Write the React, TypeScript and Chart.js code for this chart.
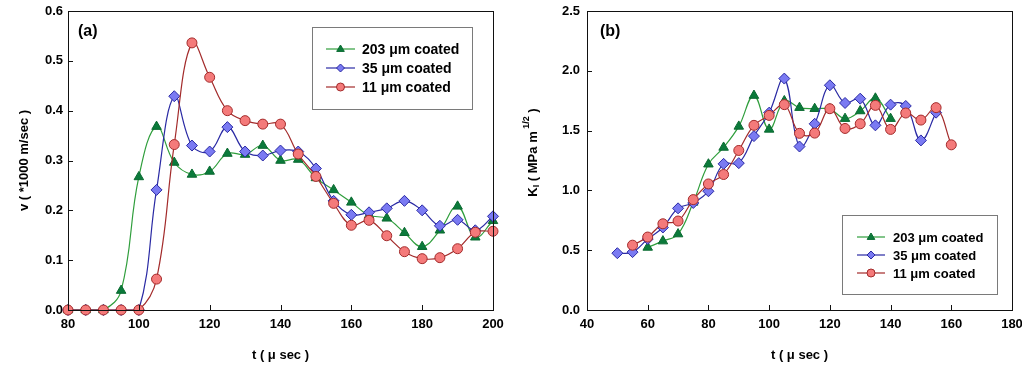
import React, { useEffect, useRef } from 'react';
import { Chart, registerables } from 'chart.js';

Chart.register(...registerables);

const FONT = '"Liberation Sans", Arial, Helvetica, sans-serif';

// ---------- Panel (a): crack velocity ----------
const timeA = [80, 85, 90, 95, 100, 105, 110, 115, 120, 125, 130, 135, 140, 145, 150, 155, 160, 165, 170, 175, 180, 185, 190, 195, 200];
const velocity203 = [0, 0, 0, 0.039, 0.267, 0.368, 0.296, 0.272, 0.278, 0.314, 0.312, 0.33, 0.3, 0.302, 0.265, 0.241, 0.216, 0.19, 0.184, 0.155, 0.127, 0.16, 0.208, 0.146, 0.179];
const velocity35 = [0, 0, 0, 0, 0, 0.241, 0.429, 0.33, 0.318, 0.367, 0.318, 0.31, 0.32, 0.318, 0.284, 0.219, 0.191, 0.196, 0.204, 0.219, 0.2, 0.169, 0.181, 0.16, 0.188];
const velocity11 = [0, 0, 0, 0, 0, 0.062, 0.332, 0.536, 0.467, 0.4, 0.38, 0.373, 0.373, 0.313, 0.268, 0.214, 0.17, 0.18, 0.149, 0.117, 0.103, 0.105, 0.123, 0.156, 0.158];

// ---------- Panel (b): stress intensity factor ----------
const timeB203 = [60, 65, 70, 75, 80, 85, 90, 95, 100, 105, 110, 115, 120, 125, 130, 135, 140];
const stress203 = [0.523, 0.576, 0.635, 0.9, 1.219, 1.359, 1.535, 1.793, 1.51, 1.748, 1.692, 1.683, 1.68, 1.6, 1.664, 1.77, 1.6];
const timeB35 = [50, 55, 60, 65, 70, 75, 80, 85, 90, 95, 100, 105, 110, 115, 120, 125, 130, 135, 140, 145, 150, 155];
const stress35 = [0.475, 0.484, 0.593, 0.69, 0.85, 0.895, 0.993, 1.222, 1.228, 1.454, 1.65, 1.935, 1.367, 1.557, 1.879, 1.731, 1.767, 1.544, 1.717, 1.706, 1.418, 1.65];
const timeB11 = [55, 60, 65, 70, 75, 80, 85, 90, 95, 100, 105, 110, 115, 120, 125, 130, 135, 140, 145, 150, 155, 160];
const stress11 = [0.542, 0.61, 0.721, 0.744, 0.923, 1.054, 1.133, 1.334, 1.544, 1.627, 1.717, 1.477, 1.479, 1.683, 1.518, 1.557, 1.711, 1.51, 1.647, 1.588, 1.692, 1.381];

const seriesLabels = ['203 \u03bcm coated', '35 \u03bcm coated', '11 \u03bcm coated'];
const xTitle = 't ( \u03bc sec )';
const yTitleA = 'v ( *1000 m/sec )';

const STYLES = [
  { line: '#2f9e3c', fill: '#0b7a3b', point: 'triangle', radius: 5.5, order: 3 },
  { line: '#2a2aa4', fill: '#7a7af2', point: 'rectRot', radius: 5.5, order: 2 },
  { line: '#a32b2b', fill: '#f47a7a', point: 'circle', radius: 5, order: 1 },
];

function makeDataset(i: number, xs: number[], ys: number[]) {
  const s = STYLES[i];
  return {
    label: seriesLabels[i],
    data: xs.map((x, k) => ({ x, y: ys[k] })),
    borderColor: s.line,
    backgroundColor: s.fill,
    pointBackgroundColor: s.fill,
    pointBorderColor: s.point === 'triangle' ? '#0a6a30' : s.line,
    pointBorderWidth: 1,
    pointStyle: s.point,
    pointRadius: s.radius,
    borderWidth: 1.2,
    tension: 0.4,
    clip: false as any,
    order: s.order,
  };
}

function drawMarker(ctx: CanvasRenderingContext2D, style: string, x: number, y: number, r: number) {
  ctx.beginPath();
  if (style === 'triangle') {
    ctx.moveTo(x, y - r);
    ctx.lineTo(x + r * 0.95, y + r * 0.6);
    ctx.lineTo(x - r * 0.95, y + r * 0.6);
    ctx.closePath();
  } else if (style === 'rectRot') {
    ctx.moveTo(x, y - r);
    ctx.lineTo(x + r, y);
    ctx.lineTo(x, y + r);
    ctx.lineTo(x - r, y);
    ctx.closePath();
  } else {
    ctx.arc(x, y, r, 0, Math.PI * 2);
  }
  ctx.fill();
  ctx.stroke();
}

type LegendCfg = { x: number; y: number; w: number; h: number; row0: number; rowGap: number; lx1: number; lx2: number; tx: number; size: number; r: number };

function boxLegendPlugin(cfg: LegendCfg) {
  return {
    id: 'boxLegend',
    afterDatasetsDraw(chart: any) {
      const ctx: CanvasRenderingContext2D = chart.ctx;
      ctx.save();
      ctx.fillStyle = '#ffffff';
      ctx.fillRect(cfg.x, cfg.y, cfg.w, cfg.h);
      ctx.strokeStyle = '#7a7a7a';
      ctx.lineWidth = 1;
      ctx.strokeRect(cfg.x + 0.5, cfg.y + 0.5, cfg.w, cfg.h);
      chart.data.datasets.forEach((ds: any, i: number) => {
        const s = STYLES[i];
        const y = cfg.row0 + i * cfg.rowGap;
        ctx.strokeStyle = s.line;
        ctx.lineWidth = 1.2;
        ctx.beginPath();
        ctx.moveTo(cfg.lx1, y);
        ctx.lineTo(cfg.lx2, y);
        ctx.stroke();
        ctx.fillStyle = s.fill;
        ctx.strokeStyle = s.point === 'triangle' ? '#0a6a30' : s.line;
        ctx.lineWidth = 1;
        drawMarker(ctx, s.point, (cfg.lx1 + cfg.lx2) / 2, y, cfg.r);
        ctx.fillStyle = '#000';
        ctx.font = `bold ${cfg.size}px ${FONT}`;
        ctx.textBaseline = 'middle';
        ctx.textAlign = 'left';
        ctx.fillText(ds.label, cfg.tx, y + 1);
      });
      ctx.restore();
    },
  };
}

const framePlugin = {
  id: 'frameTicks',
  afterDraw(chart: any) {
    const ctx: CanvasRenderingContext2D = chart.ctx;
    const a = chart.chartArea;
    ctx.save();
    ctx.strokeStyle = '#111';
    ctx.lineWidth = 1;
    ctx.strokeRect(Math.round(a.left) + 0.5, Math.round(a.top) + 0.5, Math.round(a.right - a.left), Math.round(a.bottom - a.top));
    const xs = chart.scales.x;
    const ys = chart.scales.y;
    ctx.beginPath();
    xs.ticks.forEach((t: any) => {
      const px = Math.round(xs.getPixelForValue(t.value)) + 0.5;
      ctx.moveTo(px, a.bottom);
      ctx.lineTo(px, a.bottom - 5);
    });
    ys.ticks.forEach((t: any) => {
      const py = Math.round(ys.getPixelForValue(t.value)) + 0.5;
      ctx.moveTo(a.left, py);
      ctx.lineTo(a.left + 5, py);
    });
    ctx.stroke();
    ctx.restore();
  },
};

function panelLabelPlugin(text: string, x: number, y: number) {
  return {
    id: 'panelLabel',
    afterDraw(chart: any) {
      const ctx: CanvasRenderingContext2D = chart.ctx;
      ctx.save();
      ctx.font = `bold 16px ${FONT}`;
      ctx.fillStyle = '#000';
      ctx.textBaseline = 'middle';
      ctx.textAlign = 'left';
      ctx.fillText(text, x, y);
      ctx.restore();
    },
  };
}

function kTitlePlugin(cx: number) {
  return {
    id: 'kTitle',
    afterDraw(chart: any) {
      const ctx: CanvasRenderingContext2D = chart.ctx;
      const a = chart.chartArea;
      const main = `bold 13px ${FONT}`;
      const small = `bold 9px ${FONT}`;
      const parts = [
        { t: 'K', f: main, dy: 0 },
        { t: 'I', f: small, dy: 4 },
        { t: ' ( MPa m', f: main, dy: 0 },
        { t: ' 1/2', f: small, dy: -6 },
        { t: ' )', f: main, dy: 0 },
      ];
      ctx.save();
      let total = 0;
      const widths = parts.map((p) => {
        ctx.font = p.f;
        const w = ctx.measureText(p.t).width;
        total += w;
        return w;
      });
      ctx.translate(cx, (a.top + a.bottom) / 2 - 8);
      ctx.rotate(-Math.PI / 2);
      ctx.fillStyle = '#000';
      ctx.textBaseline = 'middle';
      ctx.textAlign = 'left';
      let x = -total / 2;
      parts.forEach((p, i) => {
        ctx.font = p.f;
        ctx.fillText(p.t, x, p.dy);
        x += widths[i];
      });
      ctx.restore();
    },
  };
}

const tickFont = { family: FONT, size: 13, weight: 'bold' as const };
const titleFont = { family: FONT, size: 13, weight: 'bold' as const };

function makeOptions(p: {
  xMin: number; xMax: number; xStep: number;
  yMin: number; yMax: number; yStep: number;
  yWidth: number; padRight: number; yTickPad: number;
  yTitle?: string; yTitlePad?: number;
}) {
  return {
    responsive: false,
    animation: false,
    devicePixelRatio: 1,
    events: [],
    layout: { padding: { top: 11, right: p.padRight, left: 0, bottom: 0 } },
    plugins: { legend: { display: false }, tooltip: { enabled: false } },
    scales: {
      x: {
        type: 'linear',
        min: p.xMin,
        max: p.xMax,
        grid: { display: false, drawTicks: false },
        border: { display: false },
        ticks: { stepSize: p.xStep, font: tickFont, color: '#000', padding: 7, maxRotation: 0, autoSkip: false },
        title: { display: true, text: xTitle, font: titleFont, color: '#000', padding: { top: 0, bottom: 14 } },
        afterFit: (s: any) => { s.height = 67; s.paddingLeft = 0; s.paddingRight = 0; },
      },
      y: {
        type: 'linear',
        min: p.yMin,
        max: p.yMax,
        grid: { display: false, drawTicks: false },
        border: { display: false },
        ticks: { stepSize: p.yStep, font: tickFont, color: '#000', padding: p.yTickPad, autoSkip: false, callback: (v: any) => Number(v).toFixed(1) },
        title: { display: !!p.yTitle, text: p.yTitle || '', font: titleFont, color: '#000', padding: { top: p.yTitlePad || 0, bottom: 0 } },
        afterFit: (s: any) => { s.width = p.yWidth; s.paddingTop = 0; s.paddingBottom = 0; },
      },
    },
  };
}

export default function App() {
  const refA = useRef<HTMLCanvasElement | null>(null);
  const refB = useRef<HTMLCanvasElement | null>(null);

  useEffect(() => {
    document.body.style.margin = '0';
    const chartA = new Chart(refA.current as HTMLCanvasElement, {
      type: 'line',
      data: {
        datasets: [
          makeDataset(0, timeA, velocity203),
          makeDataset(1, timeA, velocity35),
          makeDataset(2, timeA, velocity11),
        ],
      },
      options: makeOptions({ xMin: 80, xMax: 200, xStep: 20, yMin: 0, yMax: 0.6, yStep: 0.1, yWidth: 68, padRight: 18, yTickPad: 5, yTitle: yTitleA, yTitlePad: 17 }) as any,
      plugins: [
        framePlugin,
        panelLabelPlugin('(a)', 78, 32),
        boxLegendPlugin({ x: 312, y: 27, w: 160, h: 82, row0: 49, rowGap: 19, lx1: 326, lx2: 355, tx: 362, size: 14, r: 4 }),
      ],
    } as any);

    const chartB = new Chart(refB.current as HTMLCanvasElement, {
      type: 'line',
      data: {
        datasets: [
          makeDataset(0, timeB203, stress203),
          makeDataset(1, timeB35, stress35),
          makeDataset(2, timeB11, stress11),
        ],
      },
      options: makeOptions({ xMin: 40, xMax: 180, xStep: 20, yMin: 0, yMax: 2.5, yStep: 0.5, yWidth: 76, padRight: 10, yTickPad: 7 }) as any,
      plugins: [
        framePlugin,
        panelLabelPlugin('(b)', 89, 32),
        kTitlePlugin(22),
        boxLegendPlugin({ x: 331, y: 215, w: 155, h: 79, row0: 237, rowGap: 18, lx1: 346, lx2: 374, tx: 382, size: 13, r: 4 }),
      ],
    } as any);

    return () => {
      chartA.destroy();
      chartB.destroy();
    };
  }, []);

  return (
    <div style={{ position: 'relative', width: 1022, height: 377, background: '#fff' }}>
      <canvas ref={refA} width={511} height={377} style={{ position: 'absolute', left: 0, top: 0 }} />
      <canvas ref={refB} width={511} height={377} style={{ position: 'absolute', left: 511, top: 0 }} />
    </div>
  );
}
